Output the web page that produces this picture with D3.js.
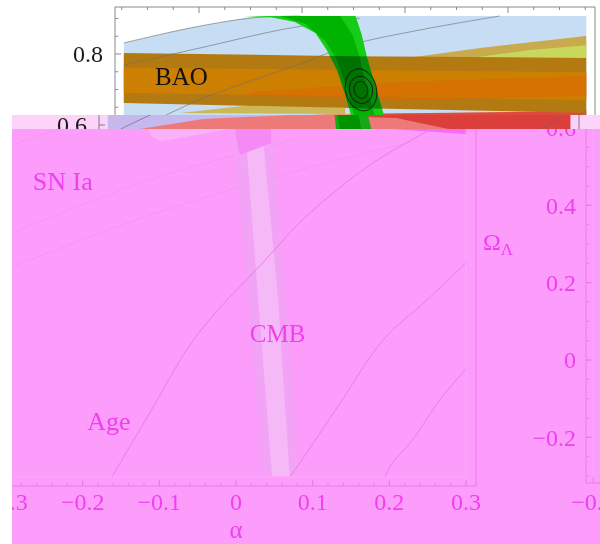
<!DOCTYPE html>
<html>
<head>
<meta charset="utf-8">
<script src="https://cdn.jsdelivr.net/npm/d3@7"></script>
<style>
  html, body { margin: 0; padding: 0; background: #ffffff; }
  svg { display: block; }
</style>
</head>
<body>
<svg id="chart" width="600" height="544"></svg>
<script>
// ---------- upper panel: constraint bands (x, Ω_Λ) ----------
const blueRegion = [[0.027,0.831],[0.082,0.868],[0.150,0.904],[0.198,0.907],[0.476,0.907],[0.476,0.575],[0.027,0.575]];
const salmonBand = [[0.052,0.575],[0.052,0.586],[0.120,0.617],[0.227,0.631],[0.476,0.637],[0.476,0.575]];
const redBand    = [[0.247,0.631],[0.476,0.639],[0.476,0.575],[0.380,0.575],[0.307,0.620],[0.247,0.625]];
const khakiTop   = [[0.295,0.786],[0.373,0.817],[0.476,0.851],[0.476,0.789]];
const yellowTop  = [[0.363,0.789],[0.421,0.811],[0.476,0.825],[0.476,0.789]];
const khakiLow   = [[0.082,0.634],[0.159,0.659],[0.242,0.648],[0.242,0.631]];
const baoOuter   = [[0.027,0.803],[0.247,0.794],[0.476,0.789],[0.476,0.634],[0.247,0.648],[0.027,0.662]];
const baoInner   = [[0.027,0.761],[0.247,0.755],[0.476,0.749],[0.476,0.670],[0.247,0.682],[0.027,0.690]];
const baoLobe    = [[0.150,0.693],[0.295,0.721],[0.476,0.738],[0.476,0.682],[0.295,0.670],[0.150,0.682]];
const cmbOuterTop = [[0.143,0.907],[0.169,0.904],[0.193,0.890],[0.213,0.859],[0.224,0.811],[0.234,0.755],[0.242,0.685],[0.247,0.634],[0.249,0.575],
                     [0.284,0.575],[0.279,0.634],[0.271,0.713],[0.263,0.792],[0.258,0.854],[0.252,0.907]];
const cmbInnerTop = [[0.179,0.907],[0.203,0.885],[0.222,0.839],[0.234,0.783],[0.244,0.699],[0.250,0.634],[0.253,0.575],
                     [0.274,0.575],[0.270,0.634],[0.262,0.713],[0.256,0.792],[0.249,0.854],[0.237,0.907]];
const grayLines = [
  [[0.027,0.831],[0.091,0.873],[0.150,0.901],[0.198,0.907]],
  [[0.027,0.769],[0.101,0.817],[0.179,0.868],[0.227,0.890],[0.256,0.901]],
  [[0.033,0.578],[0.042,0.592],[0.068,0.628],[0.107,0.679],[0.198,0.772],[0.247,0.825],[0.315,0.868],[0.392,0.907]],
  [[0.447,0.586],[0.476,0.642]]
];
const jointCenter = [0.2573, 0.699];
const jointContours = [[0.0150,0.060],[0.0112,0.039],[0.0066,0.024]];   // semi-axes (x, Ω_Λ)
const topYTicks = [0.6,0.65,0.7,0.75,0.8,0.85,0.9];
const topYTickLabels = [0.6, 0.8];
const topXTicks = d3.range(1,20).map(i => i*0.025);
const baoLabel = {text:"BAO", x:0.0573, y:0.713};

// ---------- lower panel: (α, Ω_Λ) ----------
const snLight   = [[-0.115,0.600],[-0.001,0.600],[-0.047,0.584],[-0.099,0.566],[-0.110,0.579]];
const snLines = [
  [[-0.292,0.556],[-0.230,0.598]],
  [[-0.292,0.328],[-0.112,0.466],[0.084,0.574]],
  [[-0.292,0.241],[-0.112,0.375],[0.084,0.491],[0.240,0.569]]
];
const cmbOuter   = [[-0.004,0.6],[0.016,0.155],[0.035,-0.3],[0.083,-0.3],[0.065,0.155],[0.047,0.6]];
const cmbInner   = [[0.012,0.6],[0.029,0.155],[0.047,-0.3],[0.070,-0.3],[0.055,0.155],[0.034,0.6]];
const cmbOverlap = [[-0.002,0.6],[0.046,0.6],[0.046,0.561],[0.005,0.530]];
const topStreak  = [[0.207,0.600],[0.301,0.600],[0.301,0.584],[0.207,0.597]];
const ageLine = [[-0.162,-0.303],[-0.112,-0.135],[-0.060,0.039],[-0.021,0.135],[0.031,0.243],[0.084,0.357],[0.136,0.447],[0.188,0.522],[0.253,0.595]];
const line2   = [[0.070,-0.303],[0.084,-0.264],[0.136,-0.111],[0.192,0.052],[0.249,0.155],[0.301,0.253]];
const line3   = [[0.194,-0.303],[0.204,-0.266],[0.230,-0.207],[0.266,-0.103],[0.301,-0.021]];
const alphaTicks = [-0.3,-0.2,-0.1,0,0.1,0.2,0.3];
const alphaTickLabels = ["−0.3","−0.2","−0.1","0","0.1","0.2","0.3"];
const alphaMinor = d3.range(-15,16).map(i => i*0.02);
const omegaTicks = [-0.2,0,0.2,0.4,0.6];
const omegaTickLabels = ["−0.2","0","0.2","0.4","0.6"];
const omegaMinor = d3.range(-6,13).map(i => i*0.05);
const panelLabels = [
  {text:"SN Ia", x:-0.265, y:0.440, size:26},
  {text:"CMB",   x:0.018,  y:0.047, size:25},
  {text:"Age",   x:-0.194, y:-0.181, size:26}
];
const rightXTicks = [-0.3];
const rightXTickLabels = ["−0.3"];

// ---------- scales ----------
const SERIF = '"Liberation Serif","Times New Roman",serif';
const xTop = d3.scaleLinear().domain([0,0.5]).range([96,611]);
const yTop = d3.scaleLinear().domain([0.6,0.8]).range([125,54]);
const xA = d3.scaleLinear().domain([-0.3,0.3]).range([6,466]);
const yO = d3.scaleLinear().domain([-0.3,0.6]).range([476,128]);
const xR = d3.scaleLinear().domain([-0.3,0.3]).range([593,1053]);

const svg = d3.select("#chart");
const defs = svg.append("defs");
defs.append("clipPath").attr("id","clipTop").append("rect")
  .attr("x",0).attr("y",0).attr("width",600).attr("height",115);
defs.append("clipPath").attr("id","clipStrip").append("rect")
  .attr("x",28).attr("y",115).attr("width",600).attr("height",14);
defs.append("clipPath").attr("id","clipPanel").append("rect")
  .attr("x",12).attr("y",129).attr("width",588).attr("height",415);

const topPoly = d3.line().x(d => xTop(d[0])).y(d => yTop(d[1])).curve(d3.curveLinearClosed);
const topCurve = d3.line().x(d => xTop(d[0])).y(d => yTop(d[1])).curve(d3.curveCatmullRom);
defs.append("clipPath").attr("id","clipBao").append("path").attr("d", topPoly(baoOuter));

// draws the upper panel; `labels` lists which Ω_Λ tick labels to write, `withName` the BAO tag
function drawTop(g, labels, withName) {
  g.append("path").attr("d", topPoly(blueRegion)).attr("fill","#c7ddf3");
  g.append("path").attr("d", topPoly(salmonBand)).attr("fill","#f0927c");
  g.append("path").attr("d", topPoly(redBand)).attr("fill","#de4a3c");
  g.append("path").attr("d", topPoly(khakiLow)).attr("fill","#cdb858");
  g.append("path").attr("d", topPoly(khakiTop)).attr("fill","#c9aa4c");
  g.append("path").attr("d", topPoly(yellowTop)).attr("fill","#c8d85c");
  g.append("path").attr("d", topPoly(baoOuter)).attr("fill","#b47a12");
  g.append("path").attr("d", topPoly(baoInner)).attr("fill","#cd7f02");
  g.append("path").attr("d", topPoly(baoLobe)).attr("fill","rgba(222,102,0,0.5)");
  grayLines.forEach(l => g.append("path").attr("d", topCurve(l))
    .attr("fill","none").attr("stroke","#6f6f6f").attr("stroke-width",0.8).attr("opacity",0.8));
  g.append("path").attr("d", topPoly(cmbOuterTop)).attr("fill","#16cc16");
  g.append("path").attr("d", topPoly(cmbInnerTop)).attr("fill","#00b300");
  const dark = g.append("g").attr("clip-path","url(#clipBao)");
  dark.append("path").attr("d", topPoly(cmbOuterTop)).attr("fill","#0a8a0a");
  dark.append("path").attr("d", topPoly(cmbInnerTop)).attr("fill","#007200");
  const cx = xTop(jointCenter[0]), cy = yTop(jointCenter[1]);
  jointContours.forEach(r => g.append("ellipse")
    .attr("cx",cx).attr("cy",cy)
    .attr("rx", xTop(jointCenter[0]+r[0]) - cx)
    .attr("ry", cy - yTop(jointCenter[1]+r[1]))
    .attr("transform",`rotate(-14,${cx},${cy})`)
    .attr("fill","none").attr("stroke","#111").attr("stroke-width",0.8));
  if (withName) {
    g.append("text").attr("x", xTop(baoLabel.x)).attr("y", yTop(baoLabel.y))
      .attr("font-family",SERIF).attr("font-size",25).attr("fill","#111").text(baoLabel.text);
  }

  // frame and ticks
  const fr = "#8a8a8a";
  g.append("line").attr("x1",115).attr("x2",115).attr("y1",7).attr("y2",140).attr("stroke",fr);
  g.append("line").attr("x1",115).attr("x2",595).attr("y1",7).attr("y2",7).attr("stroke",fr);
  g.append("line").attr("x1",595).attr("x2",595).attr("y1",7).attr("y2",140).attr("stroke",fr);
  topXTicks.forEach((t,i) => g.append("line")
    .attr("x1",xTop(t)).attr("x2",xTop(t)).attr("y1",7).attr("y2", 7 + ((i+1)%4===0 ? 6 : 3))
    .attr("stroke",fr));
  topYTicks.forEach(t => g.append("line")
    .attr("x1",115).attr("x2", 115 + (topYTickLabels.includes(t) ? 6 : 3))
    .attr("y1",yTop(t)).attr("y2",yTop(t)).attr("stroke",fr));
  labels.forEach(t => g.append("text")
    .attr("x",103).attr("y",yTop(t)).attr("dy","0.35em").attr("text-anchor","end")
    .attr("font-family",SERIF).attr("font-size",24).attr("fill","#1a1a1a").text(t.toFixed(1)));
}

// upper panel
drawTop(svg.append("g").attr("clip-path","url(#clipTop)"), topYTickLabels.filter(t => yTop(t) < 110), true);
// narrow band below it: same panel offset to the left, tinted pink
drawTop(svg.append("g").attr("transform","translate(-16,0)").append("g").attr("clip-path","url(#clipStrip)"),
        topYTickLabels.filter(t => yTop(t) >= 110), false);
svg.append("rect").attr("x",12).attr("y",115).attr("width",588).attr("height",14)
  .attr("fill","#fcd4f9").style("mix-blend-mode","multiply");

// ---------- lower panel ----------
const P = svg.append("g").attr("clip-path","url(#clipPanel)");
const lPoly = d3.line().x(d => xA(d[0])).y(d => yO(d[1])).curve(d3.curveLinearClosed);
const lCurve = d3.line().x(d => xA(d[0])).y(d => yO(d[1])).curve(d3.curveCatmullRom);
const MAG = "#f03ff0", AX = "#ef78ee";

P.append("rect").attr("x",12).attr("y",129).attr("width",588).attr("height",415).attr("fill","#fd9dfb");
P.append("path").attr("d", lPoly(snLight)).attr("fill","#fbb2fb");
snLines.forEach(l => P.append("path").attr("d", lCurve(l)).attr("fill","none")
  .attr("stroke","#f592f4").attr("stroke-width",0.8));
P.append("path").attr("d", lPoly(cmbOuter)).attr("fill","#f2a3f6");
P.append("path").attr("d", lPoly(cmbInner)).attr("fill","#f5b9f8");
P.append("path").attr("d", lPoly(cmbOverlap)).attr("fill","#f68af5");
P.append("path").attr("d", lPoly(topStreak)).attr("fill","#f76cf4");
[ageLine, line2, line3].forEach(l => P.append("path").attr("d", lCurve(l)).attr("fill","none")
  .attr("stroke",AX).attr("stroke-width",1));

// data boundary and frame of the α panel
P.append("path").attr("d", `M12,${yO(-0.3)+1}H${xA(0.3)}V129`).attr("fill","none")
  .attr("stroke","#f9aaf9").attr("stroke-width",1);
P.append("line").attr("x1",12).attr("x2",476).attr("y1",486).attr("y2",486).attr("stroke",AX);
P.append("line").attr("x1",476).attr("x2",476).attr("y1",129).attr("y2",486).attr("stroke",AX);
alphaMinor.forEach(t => P.append("line").attr("x1",xA(t)).attr("x2",xA(t))
  .attr("y1",486).attr("y2",483).attr("stroke",AX));
alphaTicks.forEach((t,i) => {
  P.append("line").attr("x1",xA(t)).attr("x2",xA(t)).attr("y1",486).attr("y2",480).attr("stroke",AX);
  P.append("text").attr("x",xA(t)).attr("y",510).attr("text-anchor","middle")
    .attr("font-family",SERIF).attr("font-size",24).attr("fill",MAG).text(alphaTickLabels[i]);
});
P.append("text").attr("x",xA(0)).attr("y",538).attr("text-anchor","middle")
  .attr("font-family",SERIF).attr("font-size",25).attr("fill",MAG).text("α");

panelLabels.forEach(l => P.append("text").attr("x",xA(l.x)).attr("y",yO(l.y))
  .attr("font-family",SERIF).attr("font-size",l.size).attr("fill",MAG).text(l.text));

// Ω_Λ axis of the neighbouring panel
const yl = P.append("text").attr("x",483).attr("y",250).attr("font-family",SERIF).attr("fill",MAG);
yl.append("tspan").attr("font-size",24).text("Ω");
yl.append("tspan").attr("font-size",17).attr("dy",5).text("Λ");

P.append("line").attr("x1",586).attr("x2",586).attr("y1",129).attr("y2",483).attr("stroke",AX);
P.append("line").attr("x1",593).attr("x2",593).attr("y1",129).attr("y2",483).attr("stroke","#f9a9f9");
P.append("line").attr("x1",586).attr("x2",600).attr("y1",483).attr("y2",483).attr("stroke",AX);
omegaMinor.forEach(t => P.append("line").attr("x1",586).attr("x2",589)
  .attr("y1",yO(t)).attr("y2",yO(t)).attr("stroke",AX));
omegaTicks.forEach((t,i) => {
  P.append("line").attr("x1",586).attr("x2",592).attr("y1",yO(t)).attr("y2",yO(t)).attr("stroke",AX);
  P.append("text").attr("x",576).attr("y",yO(t)).attr("dy","0.35em").attr("text-anchor","end")
    .attr("font-family",SERIF).attr("font-size",24).attr("fill",MAG).text(omegaTickLabels[i]);
});
rightXTicks.forEach((t,i) => {
  P.append("line").attr("x1",xR(t)).attr("x2",xR(t)).attr("y1",483).attr("y2",477).attr("stroke",AX);
  P.append("text").attr("x",xR(t)).attr("y",510).attr("text-anchor","middle")
    .attr("font-family",SERIF).attr("font-size",24).attr("fill",MAG).text(rightXTickLabels[i]);
});
</script>
</body>
</html>
